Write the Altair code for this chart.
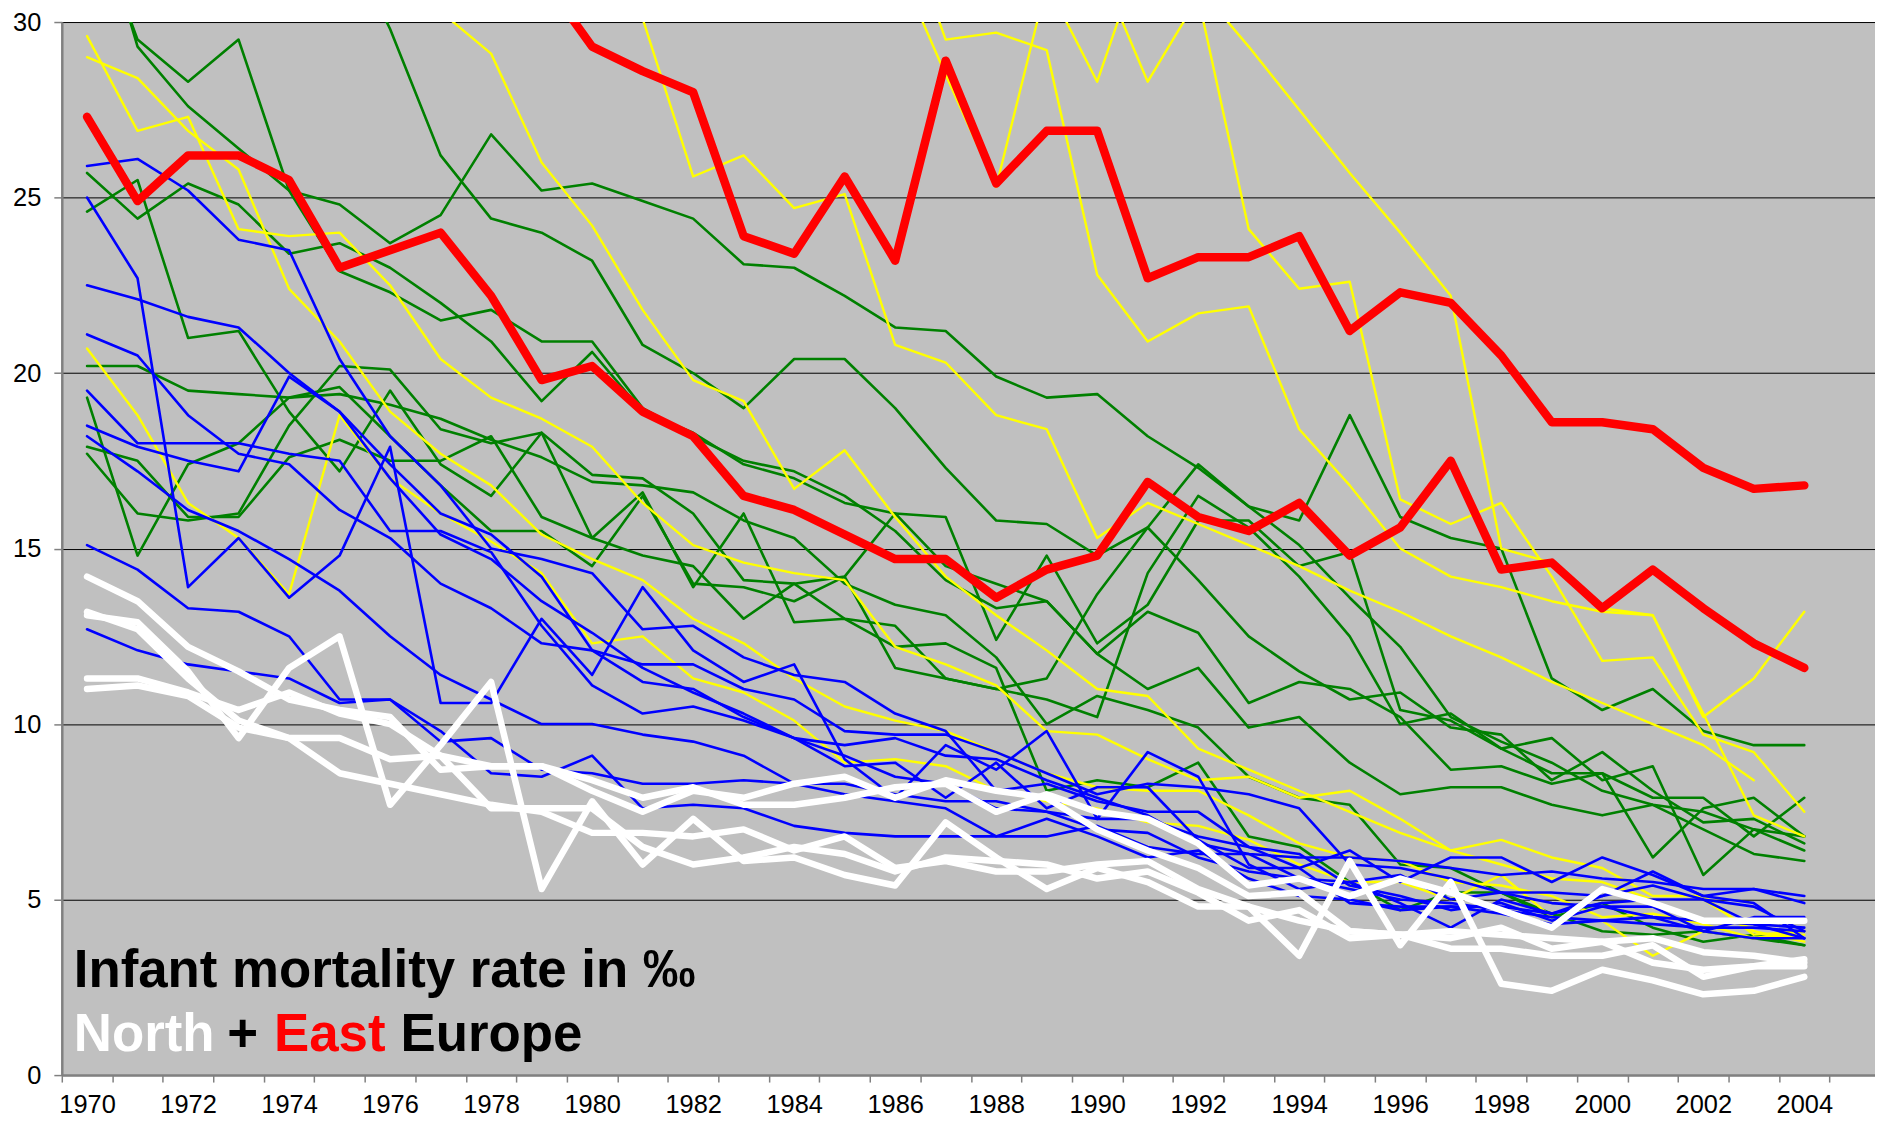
import altair as alt
import pandas as pd

N = None
YEARS = list(range(1970, 2005))

# ---- East Europe (red, thick)
RED_1 = [N, N, N, N, N, N, N, N, N, 31.3, 29.3, 28.6, 28.0, 23.9, 23.4, 25.6, 23.2, 28.9, 25.4, 26.9,
         26.9, 22.7, 23.3, 23.3, 23.9, 21.2, 22.3, 22.0, 20.5, 18.6, 18.6, 18.4, 17.3, 16.7, 16.8]
RED_2 = [27.3, 24.9, 26.2, 26.2, 25.5, 23.0, 23.5, 24.0, 22.2, 19.8, 20.2, 18.9, 18.2, 16.5, 16.1, 15.4, 14.7,
         14.7, 13.6, 14.4, 14.8, 16.9, 15.9, 15.5, 16.3, 14.8, 15.6, 17.5, 14.4, 14.6, 13.3, 14.4, 13.3, 12.3, 11.6]

# ---- North Europe (white, thick)
WHITE_1 = [14.2, 13.5, 12.2, 11.5, 10.7, 10.4, 10.2, 8.7, 8.8, 8.8, 8.4, 7.9, 8.2, 7.7, 7.7, 7.9, 8.2, 8.3, 7.5,
           8.0, 7.5, 7.3, 6.6, 5.4, 5.6, 5.1, 5.6, 5.2, 4.7, 4.2, 5.3, 4.9, 4.4, 4.4, 4.4]
WHITE_2 = [13.2, 12.7, 11.3, 10.1, 9.6, 9.6, 9.0, 9.1, 7.6, 7.6, 7.6, 6.5, 6.0, 6.2, 6.5, 6.3, 5.8, 6.2, 6.1,
           6.0, 5.6, 5.8, 5.2, 4.4, 4.7, 3.9, 4.0, 3.9, 4.2, 3.6, 3.8, 3.2, 3.0, 3.1, 3.3]
WHITE_3 = [13.1, 12.9, 11.5, 9.6, 11.6, 12.5, 7.7, 9.4, 11.2, 5.3, 7.8, 6.0, 7.3, 6.1, 6.2, 5.7, 5.4, 7.2, 6.2,
           5.3, 5.9, 5.5, 4.8, 4.8, 3.4, 6.1, 3.7, 5.5, 2.6, 2.4, 3.0, 2.7, 2.3, 2.4, 2.8]
WHITE_4 = [11.3, 11.3, 10.9, 10.4, 10.9, 10.3, 10.0, 9.1, 8.8, 8.8, 8.1, 7.5, 8.1, 7.9, 8.3, 8.5, 7.9, 8.4, 8.1,
           7.9, 7.0, 6.4, 5.9, 5.1, 5.2, 4.1, 4.0, 4.1, 4.0, 3.9, 3.8, 3.9, 3.5, 3.4, 3.2]
WHITE_5 = [11.0, 11.1, 10.8, 9.9, 9.6, 8.6, 8.3, 8.0, 7.7, 7.5, 6.9, 6.9, 6.8, 7.0, 6.4, 6.8, 5.9, 6.1, 5.8,
           5.8, 6.0, 6.1, 5.3, 4.8, 4.4, 4.1, 4.0, 3.6, 3.6, 3.4, 3.4, 3.7, 2.8, 3.1, 3.1]

# ---- blue
BLUE_1 = [25.9, 26.1, 25.2, 23.8, 23.5, 20.4, 18.2, 16.8, 15.0, 14.7, 14.3, 12.7, 12.8, 11.9, 11.4, 11.2, 10.3,
          9.8, 8.1, 8.3, 7.8, 7.5, 7.5, 6.5, 6.3, 5.4, 5.1, 4.7, 4.9, 4.4, 4.8, 4.8, 4.1, 4.5, 4.5]
BLUE_2 = [25.0, 22.7, 13.9, 15.3, 13.6, 14.8, 17.9, 10.6, 10.6, 13.0, 11.4, 13.9, 12.1, 11.2, 11.7, 9.0, 7.9,
          9.4, 8.7, 9.8, 7.3, 9.2, 8.5, 6.0, 5.3, 5.5, 4.9, 4.2, 5.0, 4.6, 5.1, 5.8, 5.1, 4.9, 3.9]
BLUE_3 = [22.5, 22.1, 21.6, 21.3, 20.0, 18.9, 17.0, 15.4, 14.7, 13.5, 12.6, 11.6, 10.9, 10.3, 9.6, 9.1, 8.5,
          8.3, 7.6, 7.5, 7.0, 6.9, 6.2, 5.8, 5.6, 5.3, 5.0, 4.9, 4.7, 4.5, 4.4, 4.3, 4.2, 4.2, 4.1]
BLUE_4 = [21.1, 20.5, 18.8, 17.7, 17.4, 16.1, 15.3, 14.0, 13.3, 12.3, 12.1, 11.7, 11.7, 11.0, 10.7, 9.8, 9.7,
          9.7, 9.2, 8.6, 8.0, 8.3, 8.2, 8.0, 7.6, 6.0, 5.9, 5.6, 5.2, 4.9, 4.8, 4.5, 4.4, 4.3, 3.9]
BLUE_5 = [19.5, 18.0, 18.0, 18.0, 17.7, 17.5, 15.5, 15.5, 14.9, 12.8, 11.1, 10.3, 10.5, 10.1, 9.6, 8.8, 8.9,
          7.9, 8.9, 7.6, 8.2, 8.2, 6.7, 5.9, 5.9, 6.4, 5.5, 6.2, 6.2, 5.5, 6.2, 5.7, 5.1, 5.3, 4.9]
BLUE_6 = [18.5, 17.9, 17.5, 17.2, 19.9, 18.9, 17.4, 16.0, 15.4, 14.2, 12.1, 11.2, 11.0, 10.2, 9.6, 9.4, 9.6,
          9.1, 9.0, 8.4, 7.9, 7.4, 6.6, 6.3, 6.2, 6.2, 6.1, 5.9, 5.7, 5.8, 5.6, 5.5, 5.3, 5.3, 5.1]
BLUE_7 = [18.2, 17.2, 16.1, 15.5, 14.7, 13.8, 12.5, 11.4, 10.7, 10.0, 10.0, 9.7, 9.5, 9.1, 8.3, 8.3, 8.0,
          7.8, 7.8, 7.5, 7.3, 7.3, 6.8, 6.5, 5.9, 4.9, 4.8, 4.8, 4.6, 4.3, 4.4, 4.5, 4.1, 3.9, 3.9]
BLUE_8 = [15.1, 14.4, 13.3, 13.2, 12.5, 10.7, 10.7, 9.8, 8.6, 8.5, 9.1, 7.6, 7.7, 7.6, 7.1, 6.9, 6.8,
          6.8, 6.8, 7.3, 6.8, 6.2, 6.4, 5.6, 5.1, 5.0, 4.7, 4.8, 4.8, 4.6, 4.9, 5.0, 5.0, 4.3, 4.2]
BLUE_9 = [12.7, 12.1, 11.7, 11.5, 11.3, 10.6, 10.7, 9.5, 9.6, 8.7, 8.6, 8.3, 8.3, 8.4, 8.3, 8.0, 7.8,
          7.6, 6.8, 6.8, 7.1, 6.5, 6.3, 6.3, 5.6, 5.5, 5.7, 5.0, 5.2, 5.2, 5.1, 5.4, 5.0, 4.8, 4.1]

# ---- green
GREEN_1 = [33.4, 29.5, 28.3, 29.5, 25.2, 24.8, 23.7, 24.5, 26.8, 25.2, 25.4, 24.9, 24.4, 23.1, 23.0, 22.2, 21.3,
           21.2, 19.9, 19.3, 19.4, 18.2, 17.3, 16.2, 15.1, 13.6, 12.2, 10.2, 9.5, 8.9, 8.1, 7.7, 7.5, 7.0, 6.8]
GREEN_2 = [34.2, 29.3, 27.6, 26.4, 25.2, 22.9, 22.3, 21.5, 21.8, 20.9, 20.9, 19.0, 18.2, 17.5, 17.2, 16.5, 15.5,
           14.1, 13.3, 13.5, 12.0, 11.0, 11.6, 9.9, 10.2, 8.9, 8.0, 8.2, 8.2, 7.7, 7.4, 7.7, 7.0, 6.3, 6.1]
GREEN_3 = [25.7, 24.4, 25.4, 24.8, 23.4, 23.7, 23.0, 22.0, 20.9, 19.2, 20.6, 18.9, 18.3, 17.4, 17.0, 16.3, 16.0,
           14.5, 14.0, 13.5, 12.0, 13.2, 12.6, 10.6, 11.2, 11.0, 10.2, 8.7, 8.8, 8.3, 8.6, 6.2, 7.6, 7.9, 6.8]
GREEN_4 = [24.6, 25.5, 21.0, 21.2, 18.9, 17.2, 19.5, 17.4, 16.5, 18.3, 15.3, 16.6, 13.9, 16.0, 12.9, 13.0, 12.2,
           12.3, 11.6, 8.1, 8.4, 8.2, 8.9, 6.8, 6.5, 5.5, 4.7, 5.2, 5.2, 4.5, 4.9, 4.2, 3.8, 4.0, 3.7]
GREEN_5 = [20.2, 20.2, 19.5, 19.4, 19.3, 19.4, 19.1, 18.7, 18.1, 17.6, 16.9, 16.8, 16.6, 15.8, 15.3, 14.0, 13.4,
           13.1, 11.9, 10.0, 10.8, 10.4, 9.9, 8.5, 7.9, 7.7, 6.0, 5.9, 5.2, 4.6, 4.1, 4.0, 4.1, 3.9, 3.7]
GREEN_6 = [19.3, 14.8, 17.4, 18.0, 19.3, 19.6, 18.2, 16.8, 15.5, 15.5, 14.5, 16.5, 14.0, 13.9, 13.5, 14.2, 11.6,
           11.3, 11.0, 10.7, 10.2, 14.3, 16.5, 15.6, 14.2, 12.5, 10.0, 10.3, 9.3, 8.6, 8.6, 7.9, 7.9, 6.8, 7.9]
GREEN_7 = [17.9, 17.5, 15.9, 15.9, 17.6, 18.1, 17.5, 17.5, 18.2, 15.9, 15.3, 14.8, 14.5, 13.0, 14.0, 13.0, 12.8,
           11.3, 11.0, 11.3, 13.7, 15.6, 17.4, 16.2, 15.8, 18.8, 15.9, 15.3, 15.0, 11.3, 10.4, 11.0, 9.8, 9.4, 9.4]
GREEN_8 = [17.7, 16.0, 15.8, 16.0, 18.5, 20.2, 20.1, 18.4, 18.0, 18.3, 17.1, 17.0, 16.0, 14.1, 14.0, 14.2, 16.0,
           15.9, 12.4, 14.8, 12.3, 13.4, 15.8, 15.8, 14.5, 14.9, 10.4, 10.1, 9.3, 9.6, 8.4, 8.8, 5.7, 7.0, 6.4]
GREEN_9 = [N, N, N, N, N, 32.8, 29.8, 26.2, 24.4, 24.0, 23.2, 20.8, 20.0, 19.0, 20.4, 20.4, 19.0, 17.3, 15.8,
           15.7, 14.8, 15.6, 14.1, 12.5, 11.5, 10.7, 10.9, 9.9, 9.7, 8.4, 9.2, 8.1, 7.2, 7.3, 6.6]

# ---- yellow
YELLOW_1 = [29.6, 26.9, 27.3, 24.1, 23.9, 24.0, 22.5, 20.4, 19.3, 18.7, 17.9, 16.3, 15.1, 14.6, 14.3, 14.1, 12.2,
            11.7, 11.1, 9.8, 9.7, 9.0, 8.4, 8.5, 7.9, 8.1, 7.3, 6.4, 6.7, 6.2, 5.9, 5.1, 5.1, 4.0, 4.1]
YELLOW_2 = [29.0, 28.4, 26.9, 25.8, 22.4, 20.9, 18.9, 17.7, 16.8, 15.4, 14.7, 14.1, 13.0, 12.3, 11.3, 10.5, 10.1,
            9.8, 9.2, 8.6, 8.2, 8.1, 8.1, 7.4, 6.6, 6.2, 6.1, 5.5, 5.4, 5.1, 4.5, 4.6, 4.3, 3.9, 4.1]
YELLOW_3 = [20.7, 18.8, 16.3, 15.3, 13.7, 18.8, 17.0, 16.0, 15.2, 14.3, 12.3, 12.5, 11.3, 10.9, 10.1, 8.9, 9.0,
            8.8, 8.1, 7.8, 7.6, 7.2, 7.1, 6.7, 6.0, 5.5, 5.5, 5.0, 5.7, 4.5, 4.4, 3.4, 4.1, 3.9, 4.0]
YELLOW_4 = [N, N, N, N, N, N, N, 30.3, 29.1, 26.0, 24.2, 21.8, 19.8, 19.2, 16.7, 17.8, 15.9, 14.2, 13.1, 12.1,
            11.0, 10.8, 9.3, 8.7, 8.1, 7.5, 6.9, 6.4, 6.0, 5.6, 5.5, 5.0, 5.0, 4.1, 3.8]
YELLOW_5 = [N, N, N, N, N, N, N, N, N, N, N, 30.1, 25.6, 26.2, 24.7, 25.1, 20.8, 20.3, 18.8, 18.4, 15.3, 16.3,
            15.7, 15.1, 14.5, 13.8, 13.2, 12.5, 11.9, 11.2, 10.6, 10.0, 9.4, 8.4, N]
YELLOW_6 = [N, N, N, N, N, N, N, N, N, N, N, N, N, N, N, N, 33.5, 29.5, 29.7, 29.2, 22.8, 20.9, 21.7, 21.9,
            18.4, 16.8, 15.0, 14.2, 13.9, 13.5, 13.2, 13.1, 10.2, 11.3, 13.2]
YELLOW_7 = [N, N, N, N, N, N, N, N, N, N, N, N, N, N, N, N, 31.8, 28.5, 25.3, 31.1, 28.3, 32.5, 31.0, 29.3,
            27.5, 25.7, 24.0, 22.2, 15.0, 14.6, 13.3, 13.1, 10.3, 7.4, 6.8]
YELLOW_8 = [N, N, N, N, N, N, N, N, N, N, N, N, N, N, N, N, N, N, N, N, 31.7, 28.3, 30.7, 24.1, 22.4, 22.6,
            16.4, 15.7, 16.3, 14.2, 11.8, 11.9, 9.7, 9.2, 7.5]

GROUPS = {
    "green": [GREEN_1, GREEN_2, GREEN_3, GREEN_4, GREEN_5, GREEN_6, GREEN_7, GREEN_8, GREEN_9],
    "yellow": [YELLOW_1, YELLOW_2, YELLOW_3, YELLOW_4, YELLOW_5, YELLOW_6, YELLOW_7, YELLOW_8],
    "blue": [BLUE_1, BLUE_2, BLUE_3, BLUE_4, BLUE_5, BLUE_6, BLUE_7, BLUE_8, BLUE_9],
    "white": [WHITE_1, WHITE_2, WHITE_3, WHITE_4, WHITE_5],
    "red": [RED_1, RED_2],
}
STYLE = {  # colour, stroke width
    "green": ("#008000", 2.6),
    "yellow": ("#FFFF00", 2.4),
    "blue": ("#0000FF", 2.6),
    "white": ("#FFFFFF", 6.5),
    "red": ("#FF0000", 8.5),
}

rows = []
for g, series in GROUPS.items():
    for i, s in enumerate(series):
        assert len(s) == len(YEARS), (g, i, len(s))
        for yr, v in zip(YEARS, s):
            if v is not None:
                rows.append({"group": g, "series": f"{g}_{i}", "year": yr, "value": v})
df = pd.DataFrame(rows)

W, H = 1820, 1057
X_DOMAIN = [1969.5, 2005.4]
half = W / (X_DOMAIN[1] - X_DOMAIN[0]) / 2

FONT = "Liberation Sans"
x_axis = alt.Axis(
    values=list(range(1970, 2006)), format="d", title=None, grid=False,
    tickOffset=-half, labelOffset=half,
    labelExpr="datum.value % 2 == 0 ? datum.label : ''",
    labelFlush=False, labelOverlap=False, labelFont=FONT, labelFontSize=25.5,
    labelColor="#000000", labelPadding=11, tickSize=7, tickColor="#808080", tickWidth=1.5,
    domainColor="#808080", domainWidth=2.5,
)
y_axis = alt.Axis(
    values=[0, 5, 10, 15, 20, 25, 30], format="d", title=None, grid=True,
    gridColor="#000000", gridWidth=1, labelFont=FONT, labelFontSize=25.5,
    labelColor="#000000", labelPadding=13, tickSize=8, tickColor="#808080", tickWidth=1.5,
    domainColor="#808080", domainWidth=2.5,
)
xs = alt.Scale(domain=X_DOMAIN, nice=False, zero=False)
ys = alt.Scale(domain=[0, 30], nice=False)

layers = []
for g in ["green", "yellow", "blue", "white", "red"]:
    color, width = STYLE[g]
    layers.append(
        alt.Chart(df[df.group == g]).mark_line(
            color=color, strokeWidth=width, clip=True, strokeJoin="round", strokeCap="round"
        ).encode(
            x=alt.X("year:Q", scale=xs, axis=x_axis),
            y=alt.Y("value:Q", scale=ys, axis=y_axis),
            detail="series:N",
        )
    )

TITLE_LINE_1 = "Infant mortality rate in ‰"
TITLE_LINE_2 = ["North", "+", "East", "Europe"]
TITLE_LINE_2_COLORS = ["#FFFFFF", "#000000", "#FF0000", "#000000"]
TITLE_LINE_2_DX = [0, 154, 201, 328]

def title_text(txt, color, y, dx=0):
    return alt.Chart(pd.DataFrame({"t": [txt]})).mark_text(
        align="left", baseline="alphabetic", font=FONT, fontWeight="bold",
        fontSize=53, color=color, dx=dx,
    ).encode(text="t:N", x=alt.value(12), y=alt.value(y))

layers.append(title_text(TITLE_LINE_1, "#000000", 969))
for txt, col, dx in zip(TITLE_LINE_2, TITLE_LINE_2_COLORS, TITLE_LINE_2_DX):
    layers.append(title_text(txt, col, 1033, dx))

chart = alt.layer(*layers).properties(
    width=W, height=H,
    autosize=alt.AutoSizeParams(type="none"),
    padding={"left": 54, "top": 12, "right": 0, "bottom": 45},
    background="#FFFFFF",
).configure_view(fill="#C0C0C0", stroke=None)

chart.save("out.html", embed_options={"renderer": "svg", "actions": False})
